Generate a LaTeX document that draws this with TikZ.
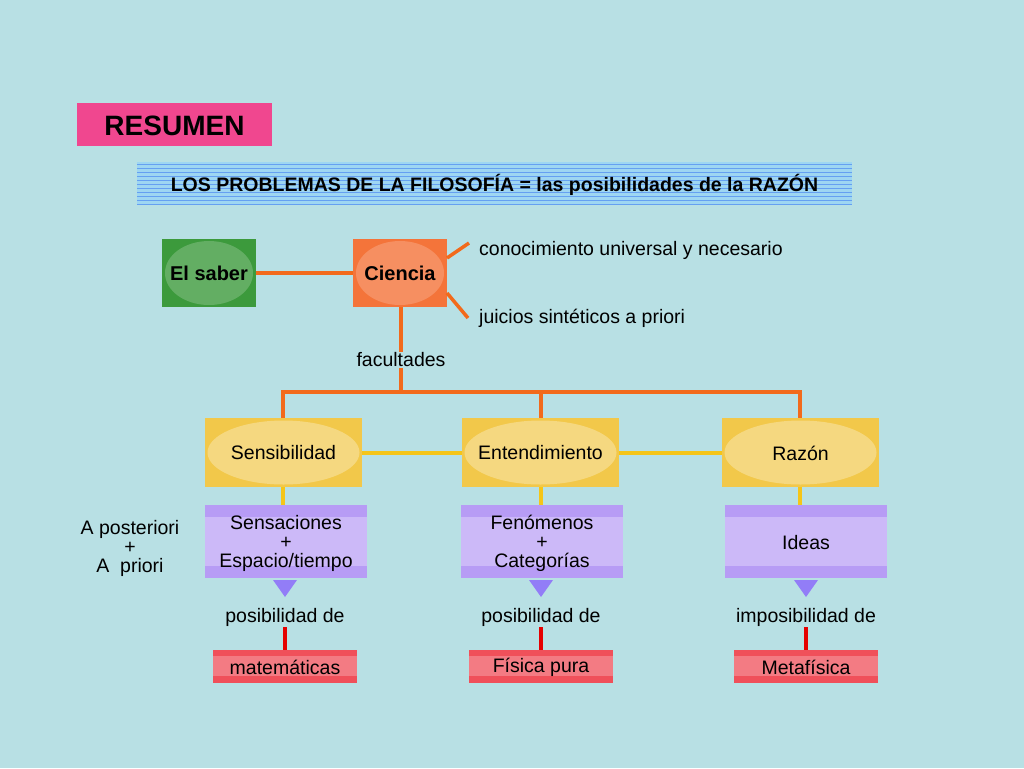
\documentclass[tikz,border=0pt]{standalone}
\usepackage{fontspec}
\setmainfont{Liberation Sans}
\usetikzlibrary{calc,shapes,arrows.meta}
\definecolor{bgblue}{HTML}{B8E0E4}
\definecolor{pinkbox}{HTML}{F0478F}
\definecolor{stripe}{HTML}{7EC8EE}
\definecolor{greenbox}{HTML}{3C9A3C}
\definecolor{orangebox}{HTML}{F4743A}
\definecolor{orangeline}{HTML}{F26A1B}
\definecolor{yellowbox}{HTML}{F2C84A}
\definecolor{yellowline}{HTML}{F5C518}
\definecolor{violetbox}{HTML}{B79CF5}
\definecolor{redbox}{HTML}{F0505A}
\tikzset{
  oline/.style={draw=orangeline,line width=3.5pt},
  yline/.style={draw=yellowline,line width=3.5pt},
  rline/.style={draw=red!90!black,line width=3.5pt},
  txt/.style={font=\fontsize{19.5}{19}\selectfont,align=center,inner sep=1pt},
}
\begin{document}
\begin{tikzpicture}[x=1pt,y=-1pt]
  \fill[bgblue] (0,0) rectangle (1024,768);
  \useasboundingbox (0,0) rectangle (1024,768);

  %% Title boxes
  \fill[pinkbox] (77,103) rectangle (272,146);
  \node[font=\fontsize{28}{30}\selectfont\bfseries] (RES) at (174.5,126) {RESUMEN};
  \fill[stripe!75] (137,162) rectangle (852,205);
  \foreach \y in {164,168,...,204}
    \draw[stripe!80!blue,line width=1pt] (137,\y) -- (852,\y);
  \node[font=\fontsize{19.5}{21}\selectfont\bfseries] (TIT) at (494.5,185)
    {LOS PROBLEMAS DE LA FILOSOFÍA = las posibilidades de la RAZÓN};

  %% Top level boxes
  \foreach \name/\col/\x/\lab in {SAB/greenbox/162/El saber,CIE/orangebox/353/Ciencia}
  {
    \fill[\col] (\x,239) rectangle (\x+94,307);
    \fill[white,opacity=0.2] (\x+47,273) ellipse (44 and 32);
    \node[txt,font=\fontsize{20}{22}\selectfont\bfseries] (\name) at (\x+47,273) {\lab};
  }
  \draw[oline] (256,273) -- (353,273);
  \coordinate (C1) at (447,258);
  \coordinate (C2) at (447,293);
  \node[txt,anchor=west] (CON) at (478,250) {conocimiento universal y necesario};
  \node[txt,anchor=west] (JUI) at (478,318) {juicios sintéticos a priori};
  \draw[oline] (C1) -- (469,243);
  \draw[oline] (C2) -- (468,318);
  \node[txt] (FAC) at (401,360) {facultades};
  \draw[oline] (401,307) -- (FAC.north);
  \draw[oline] (FAC.south) -- (401,392);
  \draw[oline] (283,418) -- (283,392) -- (800,392) -- (800,418);
  \draw[oline] (541,392) -- (541,418);

  %% Faculties
  \foreach \name/\x/\lab in {SEN/205/Sensibilidad,ENT/462/Entendimiento,RAZ/722/Razón}
  {
    \fill[yellowbox] (\x,418) rectangle (\x+157,487);
    \fill[white,opacity=0.3] (\x+78.5,452.5) ellipse (76 and 32);
    \node[txt] (\name) at (\x+78.5,453) {\lab};
  }
  \draw[yline] (362,453) -- (462,453);
  \draw[yline] (619,453) -- (722,453);
  \foreach \x in {283,541,800}
    \draw[yline] (\x,487) -- (\x,505);

  %% Contents
  \foreach \name/\x/\lab in {SEP/205/{Sensaciones\\+\\Espacio/tiempo},
                             FEN/461/{Fenómenos\\+\\Categorías},
                             IDE/725/Ideas}
  {
    \fill[violetbox] (\x,505) rectangle (\x+162,578);
    \fill[white,opacity=0.3] (\x,517) rectangle (\x+162,566);
    \node[txt] (\name) at (\x+81,543) {\lab};
  }
  \node[txt] (APO) at (130,548) {A posteriori\\+\\A~~priori};

  %% Results
  \foreach \x/\name/\pos/\lab in {285/MAT/posibilidad de/matemáticas,
                                  541/FIS/posibilidad de/Física pura,
                                  806/MET/imposibilidad de/Metafísica}
  {
    \fill[violetbox!80!blue] (\x-12,580) -- (\x+12,580) -- (\x,597) -- cycle;
    \node[txt] (P\name) at (\x,617) {\pos};
    \fill[redbox] (\x-72,650) rectangle (\x+72,683);
    \fill[white,opacity=0.25] (\x-72,656) rectangle (\x+72,676);
    \node[txt] (\name) at (\x,667) {\lab};
    \draw[rline] (P\name.south) -- (\x,650);
  }
\end{tikzpicture}
\end{document}
